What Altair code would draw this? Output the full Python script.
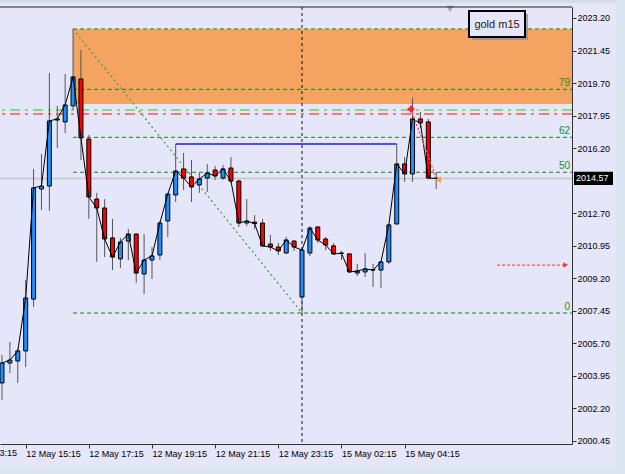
import json
import altair as alt
import pandas as pd

# ---------------- data ----------------
idx = list(range(56))
opens = [2003.57, 2004.64, 2004.75, 2005.29, 2008.08, 2014.00, 2014.16, 2017.71, 2017.61, 2018.47,
         2019.92, 2016.69, 2013.46, 2012.98, 2011.37, 2010.24, 2011.20, 2011.58, 2009.43, 2010.18,
         2010.45, 2012.28, 2013.68, 2015.08, 2014.65, 2014.22, 2014.59, 2015.02, 2014.59, 2015.13,
         2014.43, 2012.17, 2012.22, 2012.17, 2011.04, 2010.88, 2010.56, 2011.20, 2008.19, 2010.56,
         2011.96, 2011.31, 2010.94, 2010.56, 2010.51, 2009.48, 2009.54, 2009.66, 2009.64, 2010.08,
         2012.12, 2015.35, 2014.81, 2017.77, 2017.61, 2014.59]
highs = [2005.07, 2005.77, 2005.40, 2009.11, 2015.08, 2015.88, 2020.24, 2018.47, 2020.19, 2022.61,
         2021.48, 2016.91, 2013.79, 2013.46, 2012.39, 2011.37, 2011.85, 2011.60, 2011.58, 2010.88,
         2012.28, 2013.79, 2016.42, 2015.94, 2015.56, 2014.86, 2015.35, 2015.24, 2015.29, 2015.72,
         2014.50, 2013.46, 2012.60, 2012.39, 2011.53, 2011.10, 2011.42, 2011.26, 2010.75, 2012.01,
         2011.99, 2011.42, 2011.10, 2010.67, 2010.53, 2009.97, 2010.56, 2009.97, 2010.10, 2012.10,
         2016.42, 2015.72, 2018.90, 2018.14, 2017.77, 2014.92]
lows = [2002.65, 2004.10, 2003.57, 2004.43, 2007.65, 2012.87, 2012.82, 2016.21, 2017.01, 2018.25,
        2015.56, 2012.39, 2010.08, 2010.34, 2009.64, 2009.75, 2010.18, 2008.95, 2008.35, 2009.16,
        2010.18, 2011.42, 2013.30, 2013.95, 2013.30, 2013.79, 2013.84, 2014.49, 2014.49, 2014.32,
        2011.96, 2012.01, 2011.85, 2010.88, 2010.67, 2010.45, 2010.51, 2010.67, 2007.33, 2010.40,
        2011.10, 2010.72, 2010.45, 2010.18, 2009.48, 2009.32, 2009.27, 2008.73, 2008.68, 2009.97,
        2012.10, 2014.38, 2014.38, 2017.28, 2014.57, 2014.00]
closes = [2004.64, 2004.80, 2005.29, 2008.14, 2014.06, 2014.16, 2017.66, 2017.77, 2018.52, 2020.03,
          2016.75, 2013.57, 2012.98, 2011.31, 2010.34, 2011.15, 2011.58, 2009.48, 2010.18, 2010.40,
          2012.17, 2013.73, 2014.97, 2014.59, 2014.11, 2014.54, 2014.86, 2014.70, 2015.08, 2014.43,
          2012.17, 2012.28, 2012.14, 2010.94, 2010.88, 2010.67, 2011.26, 2010.88, 2010.72, 2011.90,
          2011.26, 2010.99, 2010.51, 2010.54, 2009.54, 2009.59, 2009.70, 2009.64, 2010.08, 2012.07,
          2015.35, 2014.81, 2017.77, 2017.55, 2014.59, 2014.57]

x_tick_idx = [-5, 3, 11, 19, 27, 35, 43, 51]
x_tick_labels = ["12 May 13:15", "12 May 15:15", "12 May 17:15", "12 May 19:15",
                 "12 May 21:15", "12 May 23:15", "15 May 02:15", "15 May 04:15"]
y_ticks = [2000.45, 2002.20, 2003.95, 2005.70, 2007.45, 2009.20, 2010.95,
           2012.70, 2016.20, 2017.95, 2019.70, 2021.45, 2023.20]

current_price = [2014.57]
fib_levels = [2007.33, 2014.90, 2016.78, 2019.36, 2022.61]
fib_labels = ["0", "50", "62", "79", ""]
fib_start = [9]
fib_trend_x = [9, 38]
fib_trend_y = [2022.61, 2007.33]
zone_x = [9]
zone_y = [2018.57, 2022.61]
dashdot_levels = [2018.25, 2018.04]
dashdot_colors = ["#84DA84", "#F27A7A"]
blue_level = [2016.42]
blue_x = [22, 50]
vline_x = [38]
trade_x = [51.8, 55.0]
trade_y = [2018.30, 2014.59]
arrow_x = [62.7, 71.4]
arrow_y = [2009.91]
shift_x = [56.75]
title_text = ["gold m15"]

X_MIN, X_MAX = -0.253, 72.2
Y_MIN, Y_MAX = 2000.285, 2023.79
FONT = "Liberation Sans"

# ---------------- scales / axes ----------------
xscale = alt.Scale(domain=[X_MIN, X_MAX], nice=False, zero=False, padding=0)
yscale = alt.Scale(domain=[Y_MIN, Y_MAX], nice=False, zero=False, padding=0)
label_expr = "{}[indexof({}, datum.value)]".format(json.dumps(x_tick_labels), json.dumps(x_tick_idx))
xaxis = alt.Axis(values=x_tick_idx, labelExpr=label_expr, title=None, grid=False,
                 orient="bottom", domainColor="#333333", tickColor="#333333", tickSize=4,
                 labelAlign="left", labelBaseline="top", labelPadding=1, labelOffset=0,
                 labelFont=FONT, labelFontSize=9, labelColor="black",
                 labelOverlap=False, labelFlush=False)
yaxis = alt.Axis(values=y_ticks, format=".2f", title=None, grid=False, orient="right",
                 domainColor="#333333", tickColor="#333333", tickSize=4, labelPadding=1,
                 labelAlign="left", labelFont=FONT, labelFontSize=9, labelColor="black",
                 labelOverlap=False, labelFlush=False)


def X(field):
    return alt.X(field, type="quantitative", scale=xscale, axis=xaxis)


def Y(field):
    return alt.Y(field, type="quantitative", scale=yscale, axis=yaxis)


one = pd.DataFrame([{"k": 0}])

candles = pd.DataFrame({"i": idx, "open": opens, "high": highs, "low": lows, "close": closes})
candles["dir"] = ["up" if c >= o else "down" for o, c in zip(opens, closes)]

# frame strips
frame = alt.layer(
    alt.Chart(one).mark_rect(color="#D3DCE8").encode(
        x=alt.value(0), x2=alt.value(625), y=alt.value(-7), y2=alt.value(-4)),
    alt.Chart(one).mark_rect(color="#DCE6F2").encode(
        x=alt.value(616), x2=alt.value(625), y=alt.value(-7), y2=alt.value(467)),
    alt.Chart(one).mark_rect(color="#DCE6F2").encode(
        x=alt.value(0), x2=alt.value(625), y=alt.value(459), y2=alt.value(467)),
)

zone = alt.Chart(pd.DataFrame({"x0": zone_x, "y0": [zone_y[0]], "y1": [zone_y[1]]})).transform_calculate(
    x1=str(X_MAX)).mark_rect(color="#F4A460").encode(
    x=X("x0"), x2="x1:Q", y=Y("y0"), y2="y1")

price_line = alt.Chart(pd.DataFrame({"p": current_price})).mark_rule(
    color="#C4C4CC", strokeWidth=1.5).encode(y=Y("p"))

dd = pd.DataFrame({"p": dashdot_levels, "c": dashdot_colors})
dashdot = alt.Chart(dd).mark_rule(strokeWidth=2, strokeDash=[10, 5, 3, 5]).encode(
    y=Y("p"), color=alt.Color("c:N", scale=None))

fib_df = pd.DataFrame({"p": fib_levels, "t": fib_labels, "x0": fib_start * len(fib_levels)})
fib_lines = alt.Chart(fib_df).transform_calculate(x1=str(X_MAX)).mark_rule(
    color="#0A8A0A", strokeWidth=1, strokeDash=[4, 3]).encode(x=X("x0"), x2="x1:Q", y=Y("p"))
fib_text = alt.Chart(fib_df).mark_text(
    align="right", baseline="bottom", dy=-1, color="#1E8C1E", font=FONT, fontSize=10).encode(
    x=alt.value(570), y=Y("p"), text="t:N")

fib_trend = alt.Chart(pd.DataFrame({"x": fib_trend_x, "p": fib_trend_y})).mark_line(
    color="#3AA03A", strokeWidth=1.2, strokeDash=[2, 3]).encode(x=X("x"), y=Y("p"))

blue = alt.Chart(pd.DataFrame({"x0": [blue_x[0]], "x1": [blue_x[1]], "p": blue_level})).mark_rule(
    color="#1A1AFF", strokeWidth=1.3).encode(x=X("x0"), x2="x1", y=Y("p"))

vline = alt.Chart(pd.DataFrame({"x": vline_x})).mark_rule(
    color="#111111", strokeWidth=1, strokeDash=[3, 3]).encode(x=X("x"))

wicks = alt.Chart(candles).mark_rule(color="#555555", strokeWidth=1).encode(
    x=X("i"), y=Y("low"), y2="high")

bodies = alt.Chart(candles).mark_bar(size=4, stroke="black", strokeWidth=1).encode(
    x=X("i"), y=Y("open"), y2="close",
    color=alt.Color("dir:N", scale=alt.Scale(domain=["up", "down"], range=["#1E8FFF", "#FF0000"]),
                    legend=None))

close_line = alt.Chart(candles).mark_line(color="black", strokeWidth=1).encode(
    x=X("i"), y=Y("close"))

trade = alt.Chart(pd.DataFrame({"x": trade_x, "p": trade_y})).mark_line(
    color="#FF5050", strokeWidth=1.5, strokeDash=[2, 2]).encode(x=X("x"), y=Y("p"))
trade_start = alt.Chart(pd.DataFrame({"x": trade_x[:1], "p": trade_y[:1]})).mark_point(
    shape="cross", filled=True, color="#FF2020", size=45, opacity=1).encode(x=X("x"), y=Y("p"))
trade_end = alt.Chart(pd.DataFrame({"x": [trade_x[1] + 0.25], "p": [trade_y[1] - 0.08]})).mark_point(
    shape="triangle-left", filled=True, color="#EFA35A", size=45, opacity=1).encode(x=X("x"), y=Y("p"))

arrow = alt.Chart(pd.DataFrame({"x0": [arrow_x[0]], "x1": [arrow_x[1]], "p": arrow_y})).mark_rule(
    color="#FF5050", strokeWidth=1.3, strokeDash=[3, 2]).encode(x=X("x0"), x2="x1", y=Y("p"))
arrow_head = alt.Chart(pd.DataFrame({"x": [arrow_x[1]], "p": arrow_y})).mark_point(
    shape="triangle-right", filled=True, color="#FF3030", size=30, opacity=1).encode(x=X("x"), y=Y("p"))

shift = alt.Chart(pd.DataFrame({"x": shift_x})).mark_point(
    shape="triangle-down", filled=True, color="#A8A8B4", size=55, opacity=1).encode(
    x=X("x"), y=alt.value(2))

top_line = alt.Chart(one).mark_rule(color="#222222", strokeWidth=1).encode(
    x=alt.value(0), x2=alt.value(572), y=alt.value(0))

# first time label lies left of the visible range; only its tail shows
cut_label = alt.Chart(pd.DataFrame({"x": x_tick_idx[:1], "t": x_tick_labels[:1]})).mark_text(
    align="left", baseline="top", color="black", font=FONT, fontSize=9).encode(
    x=X("x"), y=alt.value(442), text="t:N")

price_box = alt.Chart(pd.DataFrame({"p": current_price})).transform_calculate(
    top="datum.p + 0.36", bot="datum.p - 0.36").mark_rect(color="black").encode(
    x=alt.value(574), x2=alt.value(613), y=Y("top:Q"), y2="bot:Q")
price_text = alt.Chart(pd.DataFrame({"p": current_price})).transform_calculate(
    t="format(datum.p, '.2f')").mark_text(
    align="left", baseline="middle", color="white", font=FONT, fontSize=9).encode(
    x=alt.value(576), y=Y("p"), text="t:N")

box_shadow = alt.Chart(one).mark_rect(color="#8E8E9C", opacity=0.8).encode(
    x=alt.value(472), x2=alt.value(528), y=alt.value(7), y2=alt.value(33))
box = alt.Chart(one).mark_rect(fill="#E6E6FA", stroke="black", strokeWidth=2).encode(
    x=alt.value(469), x2=alt.value(525), y=alt.value(4), y2=alt.value(30))
box_text = alt.Chart(pd.DataFrame({"t": title_text})).mark_text(
    align="center", baseline="middle", color="#222222", font=FONT, fontSize=11).encode(
    x=alt.value(497), y=alt.value(17.5), text="t:N")

chart = alt.layer(
    frame, zone, price_line, dashdot, fib_lines, fib_trend, blue, vline,
    wicks, bodies, close_line, trade, trade_start, trade_end, arrow, arrow_head,
    fib_text, shift, top_line, cut_label, price_box, price_text, box_shadow, box, box_text,
).properties(
    width=572, height=437,
    padding={"left": 0, "top": 7, "right": 53, "bottom": 30},
    autosize=alt.AutoSizeParams(type="none"),
    background="#E6E6FA",
).configure_view(stroke=None)

chart.save("out.html", embed_options={"renderer": "svg", "actions": False})
